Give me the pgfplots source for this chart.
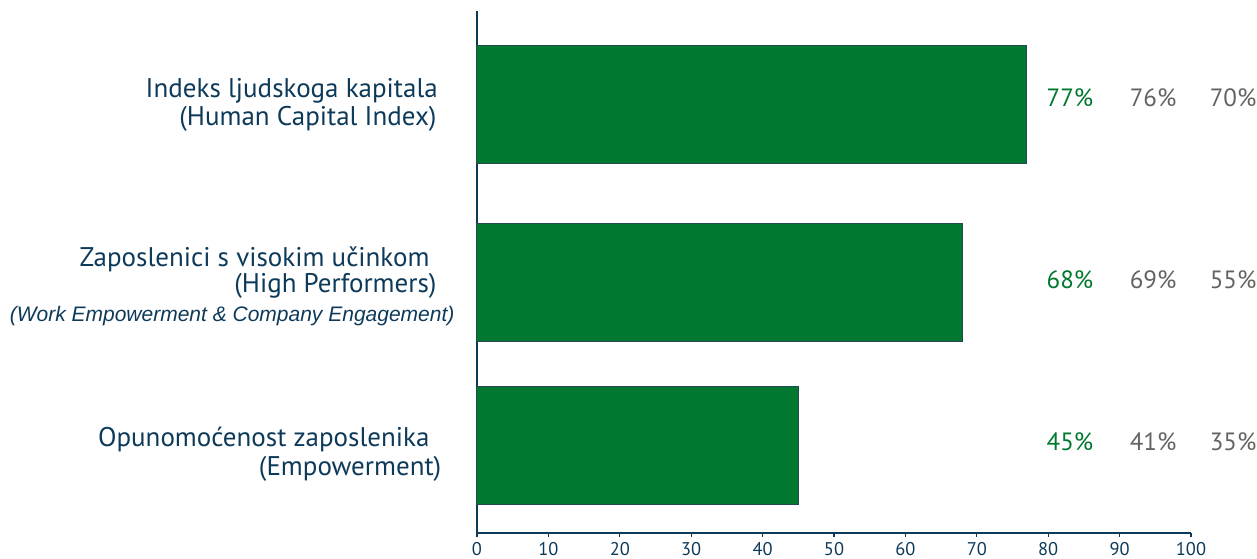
\documentclass[border=0pt]{standalone}
\usepackage{pgfplots}
\pgfplotsset{compat=1.18}
\usepackage{fontspec}
\setmainfont{PT Sans}
\newfontfamily\arialfont{Liberation Sans}
\definecolor{navy}{HTML}{0E3A5A}
\definecolor{barg}{HTML}{00782F}
\definecolor{bared}{HTML}{234A4F}
\definecolor{grayt}{HTML}{636363}
\begin{document}
\begin{tikzpicture}
\begin{axis}[
  scale only axis,
  width=357pt, height=261pt,
  xmin=0, xmax=100, ymin=0, ymax=522,
  axis x line*=bottom, axis y line*=left,
  axis line style={navy, line width=0.8pt, -},
  xtick={0,10,...,100}, ytick=\empty,
  tick style={navy, line width=0.6pt},
  major tick length=2pt,
  xtick pos=bottom, tick align=outside,
  xticklabel style={font=\fontsize{9.2}{11}\selectfont, text=navy, inner sep=1pt, yshift=-1.5pt},
  /pgf/number format/assume math mode=true,
  clip=false,
]
\addplot[xbar, bar width=59pt, bar shift=0pt, fill=barg, draw=bared, line width=0.5pt]
  coordinates {(77,428.5) (68,250.5) (45,88)};

% category labels
\begin{scope}[every node/.style={anchor=base east, inner sep=0pt, text=navy, font=\fontsize{13.5}{16}\selectfont}]
\node at (axis cs:-5.43,435.7) {Indeks ljudskoga kapitala};
\node at (axis cs:-5.62,408) {(Human Capital Index)};
\node at (axis cs:-6.6,267) {Zaposlenici s visokim učinkom};
\node at (axis cs:-5.62,240.3) {(High Performers)};
\node[font=\arialfont\itshape\fontsize{10.5}{12}\selectfont] at (axis cs:-3.1,211.3) {(Work Empowerment \& Company Engagement)};
\node at (axis cs:-6.6,86.3) {Opunomoćenost zaposlenika};
\node at (axis cs:-4.95,58) {(Empowerment)};
\end{scope}

% value labels
\begin{scope}[every node/.style={anchor=base, inner sep=0pt, font=\fontsize{12.5}{15}\selectfont}]
\node[text=barg] at (axis cs:83.05,427) {77\%};
\node[text=grayt] at (axis cs:94.7,427) {76\%};
\node[text=grayt] at (axis cs:105.9,427) {70\%};
\node[text=barg] at (axis cs:83.05,244.7) {68\%};
\node[text=grayt] at (axis cs:94.7,244.7) {69\%};
\node[text=grayt] at (axis cs:105.9,244.7) {55\%};
\node[text=barg] at (axis cs:83.05,83) {45\%};
\node[text=grayt] at (axis cs:94.7,83) {41\%};
\node[text=grayt] at (axis cs:105.9,83) {35\%};
\end{scope}
\end{axis}
\pgfresetboundingbox
\path (current axis.south west) ++(-238.5pt,-12.5pt) rectangle ++(628.5pt,279pt);
\end{tikzpicture}
\end{document}
